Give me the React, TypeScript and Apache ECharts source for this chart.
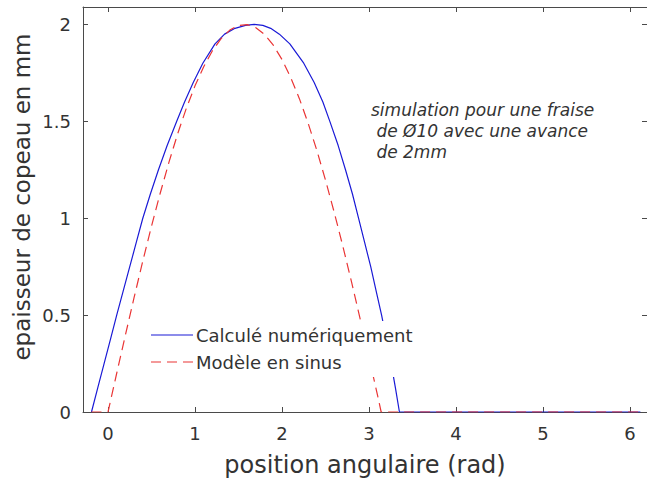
import React, { useEffect, useRef } from "react";
import * as echarts from "echarts";

// ---- data ----
const blueX = [-0.19, -0.118, -0.045, 0.028, 0.1, 0.175, 0.25, 0.325, 0.4, 0.487, 0.58, 0.68, 0.79, 0.88, 0.98, 1.09, 1.23, 1.34, 1.46, 1.58, 1.68, 1.78, 1.87, 1.97, 2.09, 2.25, 2.37, 2.47, 2.55, 2.646, 2.73, 2.81, 2.88, 2.95, 3.02, 3.082, 3.145, 3.2, 3.255, 3.304, 3.35, 6.12];
const blueY = [0, 0.125, 0.25, 0.375, 0.5, 0.625, 0.75, 0.875, 1.0, 1.125, 1.25, 1.375, 1.5, 1.6, 1.7, 1.8, 1.9, 1.95, 1.98, 1.995, 2.0, 1.995, 1.98, 1.95, 1.9, 1.8, 1.7, 1.6, 1.5, 1.375, 1.25, 1.125, 1.0, 0.875, 0.75, 0.625, 0.5, 0.375, 0.25, 0.125, 0, 0];

const redX = [-0.19, 0, 0.1, 0.2, 0.3, 0.4, 0.5, 0.6, 0.7, 0.8, 0.9, 1.0, 1.1, 1.2, 1.3, 1.4, 1.5, 1.6, 1.7, 1.8, 1.9, 2.0, 2.1, 2.2, 2.3, 2.4, 2.5, 2.6, 2.7, 2.8, 2.9, 3.0, 3.1, 3.14, 6.12];
const redY = [0, 0, 0.2, 0.397, 0.591, 0.779, 0.959, 1.129, 1.288, 1.435, 1.567, 1.683, 1.782, 1.864, 1.927, 1.971, 1.995, 1.999, 1.983, 1.948, 1.893, 1.819, 1.726, 1.617, 1.491, 1.351, 1.197, 1.031, 0.855, 0.67, 0.478, 0.282, 0.083, 0, 0];

const xTicks = [0, 1, 2, 3, 4, 5, 6];
const yTicks = [0, 0.5, 1, 1.5, 2];

const seriesNames = ["Calculé numériquement", "Modèle en sinus"];
const annotationLines = ["simulation pour une fraise", " de Ø10 avec une avance", " de 2mm"];
const xTitle = "position angulaire (rad)";
const yTitle = "epaisseur de copeau en mm";

// ---- styles ----
const FONT = "DejaVu Sans";
const AXIS = "#4a4a4a";
const TEXT = "#333333";
const BLUE = "#1a1ad6";
const RED = "#ea3535";
const DASH = [10, 6];

const X_MIN = -0.2875;
const X_MAX = 6.196;
const Y_MIN = 0;
const Y_MAX = 2.09;

function pairs(xs: number[], ys: number[]) {
  return xs.map((x, i) => [x, ys[i]]);
}

function xAxisDef(position: "bottom" | "top", showLabel: boolean) {
  return {
    type: "value",
    position,
    min: X_MIN,
    max: X_MAX,
    axisLine: { show: true, onZero: false, lineStyle: { color: AXIS, width: 1 } },
    axisTick: { show: true, inside: true, length: 5, customValues: xTicks, lineStyle: { color: AXIS, width: 1 } },
    axisLabel: { show: showLabel, customValues: xTicks, margin: 12, fontSize: 18, color: TEXT, fontFamily: FONT },
    splitLine: { show: false },
  };
}

function yAxisDef(position: "left" | "right", showLabel: boolean) {
  return {
    type: "value",
    position,
    min: Y_MIN,
    max: Y_MAX,
    axisLine: { show: true, onZero: false, lineStyle: { color: AXIS, width: 1 } },
    axisTick: { show: true, inside: true, length: 5, customValues: yTicks, lineStyle: { color: AXIS, width: 1 } },
    axisLabel: { show: showLabel, customValues: yTicks, margin: 12, fontSize: 18, color: TEXT, fontFamily: FONT },
    splitLine: { show: false },
  };
}

export default function App() {
  const ref = useRef<HTMLDivElement>(null);

  useEffect(() => {
    if (!ref.current) return;
    const chart = echarts.init(ref.current, undefined, { renderer: "svg" });
    const option: any = {
      animation: false,
      backgroundColor: "#ffffff",
      textStyle: { fontFamily: FONT },
      grid: { left: 83, right: -2, top: 7, bottom: 69, containLabel: false },
      xAxis: [xAxisDef("bottom", true), xAxisDef("top", false)],
      yAxis: [yAxisDef("left", true), yAxisDef("right", false)],
      series: [
        {
          name: seriesNames[0],
          type: "line",
          xAxisIndex: 0,
          yAxisIndex: 0,
          data: pairs(blueX, blueY),
          showSymbol: false,
          symbol: "none",
          lineStyle: { color: BLUE, width: 1.2 },
          z: 2,
        },
        {
          name: seriesNames[1],
          type: "line",
          xAxisIndex: 0,
          yAxisIndex: 0,
          data: pairs(redX, redY),
          showSymbol: false,
          symbol: "none",
          lineStyle: { color: RED, width: 1.2, type: DASH },
          z: 3,
        },
      ],
      graphic: [
        // legend (white background box, no border)
        {
          type: "rect",
          z: 50,
          shape: { x: 140, y: 321, width: 285, height: 56 },
          style: { fill: "#ffffff" },
        },
        {
          type: "line",
          z: 51,
          shape: { x1: 151, y1: 335, x2: 193, y2: 335 },
          style: { stroke: BLUE, lineWidth: 1.2 },
        },
        {
          type: "line",
          z: 51,
          shape: { x1: 151, y1: 362, x2: 193, y2: 362 },
          style: { stroke: RED, lineWidth: 1.2, lineDash: DASH },
        },
        {
          type: "text",
          z: 51,
          x: 196,
          y: 335,
          style: { text: seriesNames[0], fill: TEXT, fontSize: 18, fontFamily: FONT, align: "left", verticalAlign: "middle", textAlign: "left", textVerticalAlign: "middle" },
        },
        {
          type: "text",
          z: 51,
          x: 196,
          y: 362,
          style: { text: seriesNames[1], fill: TEXT, fontSize: 18, fontFamily: FONT, align: "left", verticalAlign: "middle", textAlign: "left", textVerticalAlign: "middle" },
        },
        // annotation
        ...annotationLines.map((t, i) => ({
          type: "text",
          z: 51,
          x: 371,
          y: 110 + i * 21,
          style: { text: t, fill: TEXT, fontSize: 17, fontFamily: FONT, fontStyle: "italic", align: "left", verticalAlign: "middle", textAlign: "left", textVerticalAlign: "middle" },
        })),
        // axis titles
        {
          type: "text",
          z: 51,
          x: 365,
          y: 465,
          style: { text: xTitle, fill: TEXT, fontSize: 24, fontFamily: FONT, align: "center", verticalAlign: "middle", textAlign: "center", textVerticalAlign: "middle" },
        },
        {
          type: "text",
          z: 51,
          x: 22,
          y: 197,
          rotation: Math.PI / 2,
          style: { text: yTitle, fill: TEXT, fontSize: 23, fontFamily: FONT, align: "center", verticalAlign: "middle", textAlign: "center", textVerticalAlign: "middle" },
        },
      ],
    };
    chart.setOption(option);
    return () => {
      chart.dispose();
    };
  }, []);

  return (
    <div
      ref={ref}
      style={{ position: "fixed", left: 0, top: 0, width: 647, height: 481, background: "#fff" }}
    />
  );
}
